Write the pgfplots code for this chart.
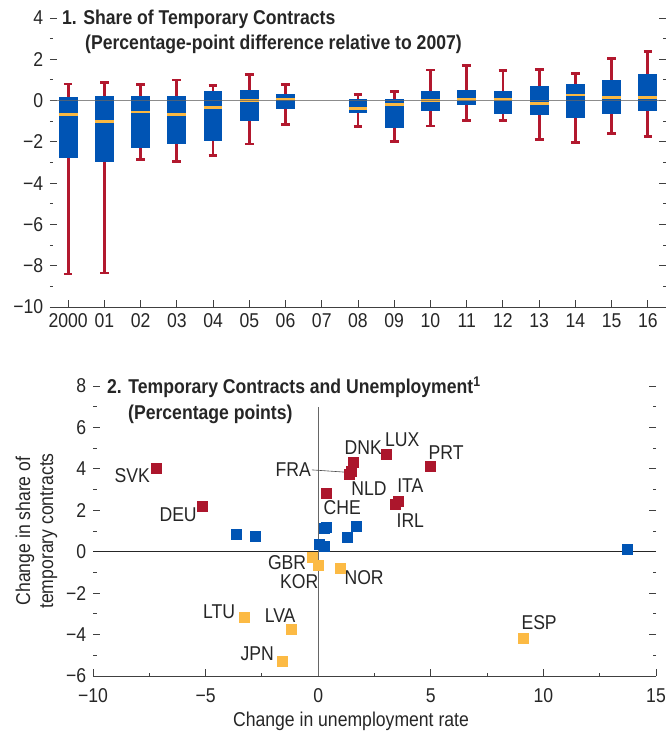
\documentclass[border=0pt]{standalone}
\usepackage{pgfplots}
\pgfplotsset{compat=1.18}
\usepgfplotslibrary{statistics}
\usepackage{fontspec}
\setmainfont[FakeStretch=0.88]{Liberation Sans}
\definecolor{boxblue}{RGB}{0,84,180}
\definecolor{whiskred}{RGB}{178,24,46}
\definecolor{medorange}{RGB}{250,184,66}
\definecolor{ptred}{RGB}{172,22,44}
\definecolor{ptblue}{RGB}{0,84,180}
\definecolor{ptyellow}{RGB}{252,186,68}
\newcommand{\bp}[6]{\addplot[draw=whiskred, line width=2.8pt, boxplot prepared={draw position=#1, lower whisker=#2, lower quartile=#3, median=#4, upper quartile=#5, upper whisker=#6}] coordinates {};}
\pgfplotsset{
  panel/.style={
    scale only axis, axis line style={draw=none},
    tick align=inside, tick style={color=black!75, line width=0.9pt},
    major tick length=7pt, minor tick length=3.5pt,
    xtick pos=left, ytick pos=both, yticklabel pos=left,
    tick label style={font=\fontsize{20}{21}\selectfont, text=black!85},
    clip=false,
  }
}
\begin{document}
\fontsize{20}{22}\selectfont
\begin{tikzpicture}
\useasboundingbox (0,0) rectangle (666pt,734pt);
% ---------------- Panel 1 ----------------
\begin{axis}[panel,
  at={(50pt,427pt)}, anchor=south west,
  width=616pt, height=289pt,
  xmin=-0.5, xmax=16.5, ymin=-10, ymax=4,
  xtick={0,...,16},
  xticklabels={2000,01,02,03,04,05,06,07,08,09,10,11,12,13,14,15,16},
  ytick={-10,-8,...,4}, minor ytick={-9,-7,...,3},
  yticklabels={−10,−8,−6,−4,−2,0,2,4},
  boxplot/draw direction=y,
  boxplot/box extend=0.52,
  boxplot/whisker extend=0.24,
  boxplot/every box/.style={fill=boxblue, draw=none},
  boxplot/every whisker/.style={draw=whiskred, line width=2.8pt},
  boxplot/every median/.style={draw=medorange, line width=2.6pt},
]
\bp{0}{-8.40}{-2.80}{-0.68}{0.18}{0.80}
\bp{1}{-8.35}{-3.00}{-1.00}{0.23}{0.88}
\bp{2}{-2.87}{-2.30}{-0.55}{0.23}{0.76}
\bp{3}{-2.97}{-2.10}{-0.68}{0.23}{1.00}
\bp{4}{-2.66}{-1.97}{-0.34}{0.44}{0.73}
\bp{5}{-2.10}{-1.00}{0.00}{0.52}{1.26}
\bp{6}{-1.16}{-0.42}{0.08}{0.32}{0.76}
\bp{8}{-1.24}{-0.61}{-0.37}{0.08}{0.31}
\bp{9}{-1.97}{-1.34}{-0.19}{0.08}{0.45}
\bp{10}{-1.23}{-0.52}{0.00}{0.44}{1.48}
\bp{11}{-0.95}{-0.23}{0.06}{0.52}{1.68}
\bp{12}{-0.98}{-0.66}{0.05}{0.44}{1.44}
\bp{13}{-1.87}{-0.71}{-0.15}{0.71}{1.50}
\bp{14}{-2.02}{-0.85}{0.26}{0.81}{1.31}
\bp{15}{-1.60}{-0.66}{0.16}{1.00}{2.02}
\bp{16}{-1.74}{-0.52}{0.15}{1.29}{2.37}
\addplot[black!60, line width=1.2pt, opacity=0.75] coordinates {(-0.5,0) (16.5,0)};
\draw[black!75, line width=0.9pt] (rel axis cs:0,0) -- (rel axis cs:1,0);
\end{axis}
% ---------------- Panel 2 ----------------
\begin{axis}[panel,
  at={(93pt,58pt)}, anchor=south west,
  width=563pt, height=290pt,
  xmin=-10, xmax=15, ymin=-6, ymax=8,
  xtick={-10,-5,...,15}, minor xtick={-7.5,-2.5,...,12.5},
  xticklabels={−10,−5,0,5,10,15},
  ytick={-6,-4,...,8}, minor ytick={-5,-3,...,7},
  yticklabels={−6,−4,−2,0,2,4,6,8},
  xticklabel style={yshift=-6pt},
]
\addplot[black!85, line width=0.8pt] coordinates {(-10,0) (15,0)};
\addplot[black!60, line width=0.8pt] coordinates {(0,-6) (0,7)};
\draw[black!75, line width=0.9pt] (rel axis cs:0,0) -- (rel axis cs:1,0);
\draw[black!70, line width=0.6pt] (axis cs:-0.28,3.95) -- (axis cs:1.35,3.83);
\addplot[only marks, mark=square*, mark size=5pt, mark options={fill=ptblue, draw=ptblue, line width=0pt}] coordinates {
(-3.61,0.84) (-2.80,0.72) (0.30,1.10) (0.36,1.16) (1.72,1.22) (1.32,0.69) (0.06,0.34) (0.27,0.24) (13.75,0.10)};
\addplot[only marks, mark=square*, mark size=5pt, mark options={fill=ptred, draw=ptred, line width=0pt}] coordinates {
(-7.16,4.02) (-5.12,2.19) (0.39,2.82) (1.58,4.31) (1.40,3.75) (1.47,3.85) (3.05,4.70) (4.97,4.12) (3.55,2.42) (3.45,2.30)};
\addplot[only marks, mark=square*, mark size=5pt, mark options={fill=ptyellow, draw=ptyellow, line width=0pt}] coordinates {
(-0.27,-0.26) (0.03,-0.66) (0.98,-0.79) (-3.29,-3.17) (-1.20,-3.77) (-1.57,-5.30) (9.13,-4.19)};
\begin{scope}[every node/.style={inner sep=0pt, text=black!85}]
\node at (axis cs:-8.26,3.67) {SVK};
\node at (axis cs:-6.22,1.79) {DEU};
\node at (axis cs:-1.11,3.96) {FRA};
\node at (axis cs:2.00,5.02) {DNK};
\node at (axis cs:3.73,5.41) {LUX};
\node at (axis cs:5.68,4.78) {PRT};
\node at (axis cs:2.26,3.04) {NLD};
\node at (axis cs:4.09,3.19) {ITA};
\node at (axis cs:1.07,2.13) {CHE};
\node at (axis cs:4.09,1.50) {IRL};
\node at (axis cs:-1.38,-0.53) {GBR};
\node at (axis cs:-0.84,-1.45) {KOR};
\node at (axis cs:2.04,-1.26) {NOR};
\node at (axis cs:-4.40,-2.90) {LTU};
\node at (axis cs:-1.69,-3.09) {LVA};
\node at (axis cs:-2.71,-4.93) {JPN};
\node at (axis cs:9.81,-3.43) {ESP};
\end{scope}
\end{axis}
% ---------------- Titles and labels ----------------
\begin{scope}[every node/.style={inner sep=0pt, text=black!85}]
\node[anchor=base west, font=\fontsize{20}{22}\selectfont\bfseries] at (62pt,709pt) {1. Share of Temporary Contracts};
\node[anchor=base west, font=\fontsize{20}{22}\selectfont\bfseries] at (85pt,684pt) {(Percentage-point difference relative to 2007)};
\node[anchor=base west, font=\fontsize{20}{22}\selectfont\bfseries] at (107pt,340pt) {2. Temporary Contracts and Unemployment\textsuperscript{1}};
\node[anchor=base west, font=\fontsize{20}{22}\selectfont\bfseries] at (128pt,314pt) {(Percentage points)};
\node[anchor=base, font=\fontsize{20}{22}\selectfont] at (351pt,7pt) {Change in unemployment rate};
\node[rotate=90, align=center, font=\fontsize{20}{23}\selectfont] at (36.5pt,203pt) {Change in share of\\temporary contracts};
\end{scope}
\end{tikzpicture}
\end{document}
